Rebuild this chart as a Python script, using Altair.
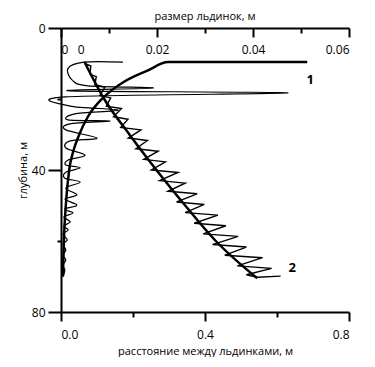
import altair as alt
import pandas as pd

# ---- curve 1: ice floe size (top axis), depth in m ----
size_fit_depth = [9.6, 9.6, 12, 15, 17.5, 20, 25, 30, 35, 40, 50, 60, 70]
size_fit_val = [0.0513, 0.0223, 0.018, 0.0133, 0.0106, 0.0085, 0.0056, 0.0038, 0.0025, 0.0017, 0.0010, 0.0006, 0.0004]

size_data_depth = [9.6, 9.6, 11.3, 14.6, 16.3, 16.9, 17.7, 18.3, 19.4, 22.0, 23.1, 24.2, 25.9, 26.2, 27.0,
                   28.7, 31.0, 31.8, 33.8, 35.8, 37.2, 38.6, 39.4, 40.6, 42.3, 43.4, 45.1, 47.0, 48.2,
                   49.9, 51.0, 52.1, 53.2, 54.6, 55.8, 56.9, 58.0, 59.7, 60.8, 62.5, 64.0, 65.4, 66.8,
                   68.2, 70.1]
size_data_val = [0.0129, 0.0048, 0.0015, 0.0023, 0.0056, 0.0192, 0.0019, 0.0473, 0.0010, 0.0019, 0.0119,
                 0.0029, 0.0015, 0.0102, 0.0019, 0.0010, 0.0075, 0.0019, 0.0010, 0.0050, 0.0015, 0.0010,
                 0.0040, 0.0010, 0.0008, 0.0040, 0.0010, 0.0033, 0.0008, 0.0033, 0.0008, 0.0025, 0.0006,
                 0.0019, 0.0006, 0.0015, 0.0004, 0.0013, 0.0004, 0.0010, 0.0004, 0.0010, 0.0004, 0.0008,
                 0.0004]

# ---- curve 2: distance between floes (bottom axis) ----
dist_fit_depth = [9.5, 20, 30, 40, 50, 60, 70.5]
dist_fit_val = [0.065, 0.12, 0.19, 0.265, 0.345, 0.43, 0.545]

dist_data_depth = [10.0, 10.7, 13.0, 13.7, 16.0, 16.7, 19.0, 19.7, 22.0, 22.7, 25.0, 25.7, 28.0, 28.7,
                   31.0, 31.7, 34.0, 34.7, 37.0, 37.7, 40.0, 40.7, 43.0, 43.7, 46.0, 46.7, 49.0, 49.7,
                   52.0, 52.7, 55.0, 55.7, 58.0, 58.7, 61.0, 61.7, 64.0, 64.7, 67.0, 67.7,
                   69.5, 70.2, 69.9]
dist_data_val = [0.066, 0.083, 0.080, 0.098, 0.094, 0.122, 0.108, 0.138, 0.126, 0.168, 0.146, 0.186,
                 0.166, 0.222, 0.187, 0.240, 0.208, 0.270, 0.230, 0.290, 0.251, 0.325, 0.274, 0.345,
                 0.297, 0.378, 0.321, 0.398, 0.345, 0.436, 0.370, 0.458, 0.395, 0.492, 0.421, 0.515,
                 0.455, 0.560, 0.490, 0.585,
                 0.515, 0.545, 0.610]

label1 = {"text": ["1"], "d": [14.6], "S": [0.0519]}
label2 = {"text": ["2"], "d": [67.6], "D": [0.642]}

FONT = "Open Sans"
W, H = 288, 284

df_sf = pd.DataFrame({"d": size_fit_depth, "S": size_fit_val, "i": range(len(size_fit_val))})
df_sd = pd.DataFrame({"d": size_data_depth, "S": size_data_val, "i": range(len(size_data_val))})
df_df = pd.DataFrame({"d": dist_fit_depth, "D": dist_fit_val, "i": range(len(dist_fit_val))})
df_dd = pd.DataFrame({"d": dist_data_depth, "D": dist_data_val, "i": range(len(dist_data_val))})
df_l1 = pd.DataFrame(label1)
df_l2 = pd.DataFrame(label2)

Y = alt.Y("d:Q",
          scale=alt.Scale(domain=[0, 80], reverse=True, nice=False, zero=False),
          axis=alt.Axis(values=[0, 20, 40, 60, 80], title="глубина, м",
                        labelExpr="datum.value % 40 === 0 ? datum.label : ''",
                        tickSize={"condition": {"test": "datum.value % 40 === 0", "value": 13}, "value": 4},
                        labelPadding=3, titlePadding=3))

XS = alt.X("S:Q",
           scale=alt.Scale(domain=[0, 0.06], nice=False, zero=False),
           axis=alt.Axis(orient="bottom", offset=-H, title=None,
                         values=[0, 0.01, 0.02, 0.03, 0.04, 0.05, 0.06],
                         labelExpr="datum.value === 0 ? '0\u00a0\u00a0\u00a00' : (round(datum.value*100) % 2 === 0 ? format(datum.value, '.2f') : '')",
                         tickSize={"condition": {"test": "round(datum.value*100) % 2 === 0", "value": 9}, "value": 5},
                         labelPadding=7))

XD = alt.X("D:Q",
           scale=alt.Scale(domain=[0, 0.8], nice=False, zero=False),
           axis=alt.Axis(orient="bottom", title="расстояние между льдинками, м",
                         values=[0, 0.2, 0.4, 0.6, 0.8],
                         labelExpr="round(datum.value*10) % 4 === 0 ? format(datum.value, '.1f') : ''",
                         tickSize={"condition": {"test": "round(datum.value*10) % 4 === 0", "value": 9}, "value": 5},
                         labelPadding=8, titlePadding=5))

size_fit = alt.Chart(df_sf).mark_line(color="black", strokeWidth=2.5, interpolate="monotone").encode(
    x=XS, y=Y, order="i:Q")
size_data = alt.Chart(df_sd).mark_line(color="black", strokeWidth=1.2, interpolate="cardinal", tension=0).encode(
    x=XS, y=Y, order="i:Q")
t1 = alt.Chart(df_l1).mark_text(font=FONT, fontSize=13, fontWeight="bold", color="black").encode(
    x=XS, y=Y, text="text:N")

dist_fit = alt.Chart(df_df).mark_line(color="black", strokeWidth=2.5, interpolate="monotone").encode(
    x=XD, y=Y, order="i:Q")
dist_data = alt.Chart(df_dd).mark_line(color="black", strokeWidth=1.4).encode(
    x=XD, y=Y, order="i:Q")
t2 = alt.Chart(df_l2).mark_text(font=FONT, fontSize=13, fontWeight="bold", color="black").encode(
    x=XD, y=Y, text="text:N")

size_layer = alt.layer(size_data, size_fit, t1)
dist_layer = alt.layer(dist_data, dist_fit, t2)

chart = alt.layer(size_layer, dist_layer).resolve_scale(x="independent").resolve_axis(x="independent").properties(
    width=W, height=H,
    title=alt.TitleParams("размер льдинок, м", font=FONT, fontSize=11, fontWeight="normal",
                          anchor="middle", frame="group", offset=0, color="black"),
    autosize=alt.AutoSizeParams(type="none"),
    padding={"left": 53, "top": 20, "right": 12, "bottom": 45},
).configure_view(stroke=None).configure_axis(
    grid=False, domainColor="black", domainWidth=2, tickColor="black", tickWidth=2,
    labelFont=FONT, labelFontSize=12, labelColor="black",
    titleFont=FONT, titleFontSize=11, titleFontWeight="normal", titleColor="black",
)

chart.save("out.html", embed_options={"renderer": "svg", "actions": False})
